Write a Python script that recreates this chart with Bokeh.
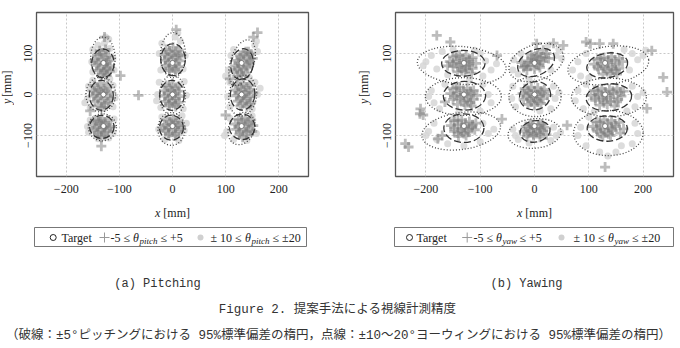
import math
from bokeh.plotting import figure
from bokeh.layouts import column, row
from bokeh.models import Range1d, FixedTicker
from bokeh.embed import file_html
from bokeh.resources import INLINE
from bokeh.core.properties import value

# ---------------- data ----------------
X_TICKS = [-200, -100, 0, 100, 200]
Y_TICKS = [-100, 0, 100]

TARGET_X = [-130, -130, -130, 0, 0, 0, 130, 130, 130]
TARGET_Y = [77, 0, -77, 77, 0, -77, 77, 0, -77]

# -5 <= theta <= +5 samples (pitch)
PITCH_NEAR = [
    (-142, 96), (-131, 102), (-120, 94), (-146, 84), (-134, 86), (-122, 82), (-143, 71), (-130, 74),
    (-118, 70), (-140, 58), (-128, 60), (-118, 57), (-133, 49), (-124, 47), (-137, 107),
    (-137, 98), (-125, 90), (-140, 78), (-124, 76), (-136, 64), (-123, 64), (-129, 53), (-126, 110),
    (-147, 22), (-135, 27), (-123, 21), (-151, 9), (-139, 11), (-127, 8), (-117, 6), (-149, -4),
    (-136, -2), (-123, -5), (-146, -17), (-133, -15), (-121, -19), (-140, -28), (-128, -30),
    (-141, 16), (-129, 14), (-144, 3), (-130, 2), (-117, -10), (-141, -10), (-128, -22), (-134, -32),
    (-146, -62), (-133, -58), (-121, -63), (-150, -74), (-138, -72), (-126, -75), (-116, -78),
    (-147, -87), (-134, -85), (-122, -89), (-140, -98), (-128, -100), (-136, -66),
    (-140, -64), (-127, -68), (-144, -80), (-131, -80), (-119, -82), (-141, -92), (-128, -93),
    (-134, -104),
    (-12, 110), (1, 115), (12, 108), (-15, 97), (-3, 99), (10, 95), (-14, 84), (0, 86), (13, 82),
    (-13, 71), (0, 70), (11, 68), (-6, 58), (6, 56), (16, 96),
    (-6, 106), (6, 104), (-9, 91), (5, 91), (-7, 78), (7, 76), (-6, 64), (5, 62),
    (-12, 22), (0, 26), (12, 20), (-16, 9), (-3, 10), (10, 8), (-15, -4), (-1, -2), (13, -5),
    (-13, -17), (0, -15), (11, -19), (-6, -28), (6, -29),
    (-6, 18), (6, 14), (-9, 3), (4, 2), (-8, -10), (6, -10), (-6, -22), (5, -23),
    (-11, -62), (1, -59), (11, -64), (-15, -75), (-2, -73), (10, -76), (-13, -88), (0, -86),
    (12, -90), (-7, -99), (5, -101),
    (-5, -66), (6, -68), (-8, -81), (5, -81), (-7, -94), (6, -95), (16, -80), (-18, -82),
    (138, 104), (148, 99), (127, 95), (140, 92), (151, 88), (122, 83), (134, 80), (146, 77),
    (118, 70), (130, 68), (142, 65), (116, 57), (127, 54), (138, 52), (122, 44),
    (143, 104), (133, 98), (145, 84), (128, 88), (124, 76), (140, 72), (122, 62), (133, 60),
    (130, 46),
    (122, 24), (134, 27), (146, 22), (118, 11), (130, 12), (143, 9), (152, 4), (120, -3),
    (133, -1), (146, -5), (123, -16), (136, -14), (148, -19), (128, -28), (140, -30),
    (128, 20), (140, 17), (124, 5), (137, 5), (127, -9), (140, -9), (132, -22), (145, -24),
    (124, -60), (137, -57), (148, -62), (118, -72), (130, -70), (143, -73), (152, -76),
    (120, -85), (133, -83), (146, -87), (126, -97), (139, -99),
    (130, -62), (142, -67), (124, -78), (137, -78), (127, -90), (140, -92), (132, -104), (150, -90),
    (-98, 46), (-64, -2), (7, 158), (160, 151), (152, 140), (-134, -126), (-128, 140),
    (-155, -40), (108, 38), (100, -50),
]
# +-10 <= theta <= +-20 samples (pitch)
PITCH_FAR = [
    (-150, 110), (-128, 125), (-118, 112), (-152, 80), (-112, 88), (-150, 55), (-110, 60),
    (-126, 140), (-120, 135), (-140, 120),
    (-158, 20), (-112, 22), (-160, -10), (-108, -8), (-155, -32), (-112, -30), (-150, 35),
    (-118, 38), (-165, -20),
    (-155, -62), (-110, -60), (-158, -92), (-112, -95), (-140, -108), (-120, -106), (-160, -78),
    (-20, 125), (5, 140), (15, 130), (-25, 100), (24, 95), (-22, 60), (20, 62), (10, 150),
    (-25, 30), (22, 32), (-28, 0), (26, -2), (-22, -32), (20, -35), (-30, -15),
    (-20, -55), (18, -52), (-26, -85), (22, -88), (-15, -110), (12, -112), (26, -70),
    (110, 95), (115, 110), (155, 120), (160, 105), (105, 60), (100, 45), (145, 40), (158, 130),
    (108, 30), (155, 30), (104, -5), (160, 0), (108, -30), (150, -35), (165, 15),
    (108, -58), (150, -52), (102, -90), (158, -95), (115, -110), (140, -112), (98, -100),
]

YAW_NEAR = [
    (-150, 92), (-138, 96), (-126, 94), (-114, 90), (-156, 80), (-144, 82), (-132, 78), (-120, 80),
    (-108, 76), (-150, 68), (-138, 66), (-126, 70), (-114, 64), (-142, 55), (-128, 56), (-116, 52),
    (-160, 70),
    (-144, 94), (-132, 88), (-120, 86), (-150, 76), (-138, 74), (-126, 62), (-120, 72), (-134, 58),
    (-150, 14), (-138, 18), (-124, 15), (-112, 10), (-155, 2), (-143, 4), (-130, 0), (-117, 2),
    (-106, -2), (-150, -12), (-137, -10), (-124, -14), (-112, -12), (-142, -24), (-128, -26),
    (-116, -28), (-165, -18),
    (-144, 16), (-131, 10), (-118, 8), (-148, -4), (-136, -4), (-122, -6), (-130, -18), (-118, -20),
    (-148, -64), (-134, -62), (-120, -66), (-108, -70), (-154, -76), (-141, -74), (-128, -78),
    (-115, -80), (-148, -90), (-135, -88), (-122, -92), (-110, -86), (-140, -102), (-126, -100),
    (-178, -108), (-170, -100),
    (-141, -64), (-127, -70), (-114, -74), (-148, -82), (-134, -82), (-121, -84), (-141, -94),
    (-130, -95),
    (-20, 66), (-8, 70), (4, 74), (16, 80), (26, 88), (-24, 78), (-12, 82), (0, 86), (12, 92),
    (22, 100), (-6, 96), (6, 100), (16, 108), (-14, 60), (0, 62), (10, 66),
    (-14, 70), (-2, 78), (10, 84), (20, 90), (-18, 70), (-6, 88), (4, 94), (8, 72),
    (-18, 14), (-6, 18), (6, 16), (18, 12), (-22, 2), (-10, 4), (2, 0), (14, 4), (24, -2),
    (-20, -12), (-8, -10), (4, -14), (16, -10), (-12, -24), (0, -26), (12, -22),
    (-12, 10), (0, 8), (12, 8), (-14, -4), (-2, -6), (10, -4), (-6, -18), (6, -18),
    (-16, -78), (-4, -74), (8, -76), (18, -80), (-20, -90), (-8, -88), (4, -92), (16, -88),
    (-14, -102), (-2, -100), (10, -104), (22, -98),
    (-10, -82), (2, -82), (12, -84), (-12, -95), (-2, -96), (10, -96), (-8, -72), (14, -72),
    (116, 86), (128, 90), (142, 92), (156, 88), (110, 74), (122, 76), (136, 78), (150, 74),
    (162, 80), (118, 62), (130, 64), (144, 60), (156, 64), (126, 50), (140, 52), (152, 50),
    (122, 88), (136, 84), (148, 84), (116, 68), (128, 70), (142, 68), (150, 60), (134, 56),
    (110, 10), (124, 14), (138, 12), (152, 14), (164, 8), (104, -2), (118, 0), (132, -2),
    (146, 2), (160, -4), (112, -14), (126, -12), (140, -16), (154, -12), (120, -26), (134, -24),
    (148, -28),
    (116, 8), (130, 6), (144, 8), (158, 6), (112, -8), (126, -6), (140, -8), (152, -18), (128, -20),
    (114, -66), (128, -62), (142, -64), (156, -68), (108, -78), (122, -76), (136, -80), (150, -78),
    (164, -84), (116, -90), (130, -92), (144, -88), (158, -94), (126, -102), (140, -100),
    (120, -68), (134, -70), (148, -72), (114, -84), (128, -84), (142, -84), (122, -96), (136, -96),
    (-180, 144), (-155, 128), (-211, -47), (-238, -120), (-232, -128), (-69, 95), (35, 125),
    (53, 120), (130, -177), (237, 42), (244, 6), (216, 107), (103, 124), (145, 124), (207, -34),
    (4, 124), (-210, -35), (-60, -60), (60, -75), (-205, -50), (95, 128), (120, 124),
]
YAW_FAR = [
    (-200, 80), (-190, 95), (-180, 62), (-170, 105), (-160, 48), (-100, 100), (-90, 82), (-80, 60),
    (-95, 45), (-110, 108), (-150, 110), (-70, 75), (-205, 70),
    (-190, 10), (-185, -20), (-175, -35), (-165, 25), (-95, 25), (-85, 0), (-80, -20), (-100, -40),
    (-140, -45), (-120, 35), (-195, -5),
    (-195, -90), (-185, -70), (-180, -110), (-160, -120), (-95, -70), (-85, -95), (-100, -115),
    (-130, -125), (-150, -60), (-75, -85), (-200, -100),
    (-40, 60), (-38, 85), (-25, 100), (30, 60), (40, 95), (45, 110), (25, 120), (-30, 50), (50, 88),
    (-40, 20), (-42, -10), (-35, -30), (35, 20), (38, -10), (30, -35), (-10, 35), (10, -40), (45, 5),
    (-40, -85), (-35, -100), (-30, -110), (35, -80), (40, -100), (30, -112), (-10, -118), (10, -68),
    (48, -92),
    (70, 60), (80, 80), (85, 45), (95, 100), (180, 100), (190, 85), (200, 95), (175, 60), (205, 108),
    (165, 110), (100, 40),
    (80, 10), (75, -15), (90, -35), (95, 25), (180, 20), (190, -5), (185, -30), (170, -40),
    (110, -42), (200, 5),
    (85, -80), (80, -100), (95, -125), (120, -140), (150, -140), (180, -120), (190, -95),
    (185, -70), (100, -55), (160, -125), (135, -150),
]

# 95% ellipses: centre x, centre y, width, height (mm), angle (deg)
PITCH_DASH_X = [-131, -134, -133, 1, -1, -2, 131, 132, 131]
PITCH_DASH_Y = [76, -2, -79, 85, -2, -81, 74, 0, -79]
PITCH_DASH_W = [42, 45, 46, 46, 46, 45, 42, 46, 48]
PITCH_DASH_H = [70, 73, 56, 78, 73, 61, 76, 76, 62]
PITCH_DASH_A = [0, 0, 0, 0, 0, 0, -10, -5, -10]

PITCH_DOT_X = [-131, -135, -132, 1, 0, -2, 131, 132, 130]
PITCH_DOT_Y = [89, 0, -80, 96, -2, -84, 78, -3, -83]
PITCH_DOT_W = [46, 56, 53, 47, 49, 51, 44, 52, 48]
PITCH_DOT_H = [102, 85, 66, 110, 98, 80, 115, 100, 82]
PITCH_DOT_A = [0, 0, 0, 0, 0, 0, -18, -8, -25]

YAW_DASH_X = [-131, -129, -130, 3, 1, 1, 134, 137, 134]
YAW_DASH_Y = [76, -3, -82, 78, -3, -90, 71, -7, -83]
YAW_DASH_W = [80, 78, 74, 72, 58, 56, 76, 84, 74]
YAW_DASH_H = [63, 70, 70, 62, 68, 52, 60, 66, 62]
YAW_DASH_A = [0, 0, 0, 25, 20, 10, 10, 5, 0]

YAW_DOT_X = [-134, -131, -135, 3, 1, 0, 136, 137, 136]
YAW_DOT_Y = [71, -5, -89, 78, -5, -95, 71, -7, -94]
YAW_DOT_W = [164, 140, 146, 104, 96, 98, 150, 138, 128]
YAW_DOT_H = [92, 92, 90, 86, 98, 72, 92, 94, 110]
YAW_DOT_A = [-5, 0, 8, 20, 0, 5, 8, 0, 0]

X_RANGE = (-256, 256)
Y_RANGE = (-200, 200)

SERIF = "Liberation Serif"
INK = "#222222"


def blank(w, h, xr, yr):
    f = figure(width=w, height=h, output_backend="svg", toolbar_location=None,
               x_range=Range1d(*xr), y_range=Range1d(*yr), min_border=0)
    f.axis.visible = False
    f.grid.visible = False
    f.outline_line_color = None
    return f


def panel(near, far, dash, dot, width, left, right):
    p = figure(width=width, height=200, output_backend="svg", toolbar_location=None,
               x_range=Range1d(*X_RANGE), y_range=Range1d(*Y_RANGE),
               min_border_left=left, min_border_right=right, min_border_top=12,
               min_border_bottom=24)
    p.outline_line_color = "#555555"
    p.outline_line_width = 1.3
    for ax in (p.xaxis[0], p.yaxis[0]):
        ax.axis_line_color = None
        ax.major_tick_line_color = None
        ax.minor_tick_line_color = None
        ax.major_tick_out = 0
        ax.major_tick_in = 0
        ax.major_label_text_font = SERIF
        ax.major_label_text_font_size = "12px"
        ax.major_label_text_color = INK
    p.xaxis[0].ticker = FixedTicker(ticks=X_TICKS)
    p.yaxis[0].ticker = FixedTicker(ticks=Y_TICKS)
    p.xaxis[0].major_label_standoff = 8
    p.yaxis[0].major_label_standoff = 5
    p.yaxis[0].major_label_orientation = "vertical"
    p.xgrid[0].ticker = FixedTicker(ticks=X_TICKS)
    p.ygrid[0].ticker = FixedTicker(ticks=Y_TICKS)
    for g in (p.xgrid[0], p.ygrid[0]):
        g.grid_line_color = "#c8c8c8"
        g.grid_line_dash = "2 2"
        g.grid_line_width = 1

    fx = [a for a, b in far]
    fy = [b for a, b in far]
    p.scatter(fx, fy, marker="circle", size=7, fill_color="#d6d6d6", fill_alpha=0.85,
              line_color=None)
    nx = [a for a, b in near]
    ny = [b for a, b in near]
    p.scatter(nx, ny, marker="cross", size=10, line_color="#7a7a7a", line_alpha=0.5,
              line_width=2.8)

    ex, ey, ew, eh, ea = dot
    p.ellipse(ex, ey, width=ew, height=eh, angle=ea, angle_units="deg", fill_color=None,
              line_color="#444444", line_width=1.3, line_dash="1 2")
    ex, ey, ew, eh, ea = dash
    p.ellipse(ex, ey, width=ew, height=eh, angle=ea, angle_units="deg", fill_color=None,
              line_color="#333333", line_width=1.3, line_dash="7 3")
    p.scatter(TARGET_X, TARGET_Y, marker="circle", size=5, fill_color="white",
              line_color="#666666", line_width=0.8)
    return p


def ylabel_fig(w, x):
    f = blank(w, 200, (0, w), (200, 0))
    # "y [mm]" rotated, centred on the frame (page y = 94)
    f.text([x], [94 + 17.5], text=["y"], angle=math.pi / 2, text_font=value(SERIF),
           text_font_size=value("12px"), text_font_style="italic", text_baseline="middle",
           text_align="left", text_color=INK)
    f.text([x], [94 + 17.5 - 8.3], text=["[mm]"], angle=math.pi / 2, text_font=value(SERIF),
           text_font_size=value("12px"), text_baseline="middle", text_align="left",
           text_color=INK)
    return f


pa = panel(PITCH_NEAR, PITCH_FAR,
           (PITCH_DASH_X, PITCH_DASH_Y, PITCH_DASH_W, PITCH_DASH_H, PITCH_DASH_A),
           (PITCH_DOT_X, PITCH_DOT_Y, PITCH_DOT_W, PITCH_DOT_H, PITCH_DOT_A), 326, 22, 32)
pb = panel(YAW_NEAR, YAW_FAR,
           (YAW_DASH_X, YAW_DASH_Y, YAW_DASH_W, YAW_DASH_H, YAW_DASH_A),
           (YAW_DOT_X, YAW_DOT_Y, YAW_DOT_W, YAW_DOT_H, YAW_DOT_A), 305, 20, 7)
ya = ylabel_fig(14, 6)
yb = ylabel_fig(35, 23)

# ---------------- axis titles, legends & captions ----------------
cap = blank(680, 148, (0, 680), (148, 0))


def txt(x, y, s, size="12px", style="normal", font=SERIF, align="left", color=INK):
    cap.text([x], [y], text=[s], text_font=value(font), text_font_size=value(size),
             text_font_style=style, text_baseline="middle", text_align=align,
             text_color=color)


# x titles
for cx in (172, 534):
    txt(cx - 17.5, 12, "x", style="italic")
    txt(cx - 17.5 + 8.3, 12, "[mm]")

cap.quad(left=[34, 394], right=[306, 673], top=[27, 27], bottom=[46, 46], fill_color=None,
         line_color="#777777", line_width=1)
LY = 37
cap.scatter([52.7, 409], [LY, LY], marker="circle", size=6, fill_color="white",
            line_color=INK, line_width=1)
cap.scatter([104, 466.7], [LY, LY], marker="cross", size=10, line_color="#999999",
            line_width=1)
cap.scatter([200, 561], [LY, LY], marker="circle", size=6, fill_color="#d0d0d0",
            line_color=None)

# legend (a)
txt(61, LY, "Target")
txt(110, LY, "-5 ≤")
txt(132.5, LY, "θ", style="italic")
txt(139, LY + 3, "pitch", size="9px", style="italic")
txt(160, LY, "≤ +5")
txt(210, LY, "± 10 ≤")
txt(244.5, LY, "θ", style="italic")
txt(251, LY + 3, "pitch", size="9px", style="italic")
txt(272, LY, "≤ ±20")
# legend (b)
txt(416, LY, "Target")
txt(473, LY, "-5 ≤")
txt(495.5, LY, "θ", style="italic")
txt(502, LY + 3, "yaw", size="9px", style="italic")
txt(519, LY, "≤ +5")
txt(573, LY, "± 10 ≤")
txt(607.5, LY, "θ", style="italic")
txt(614, LY + 3, "yaw", size="9px", style="italic")
txt(631.5, LY, "≤ ±20")

MONO_JP = "Liberation Mono, Noto Sans CJK JP"
txt(157, 83, "(a) Pitching", size="12px", font=MONO_JP, align="center", color="#333333")
txt(526, 83, "(b) Yawing", size="12px", font=MONO_JP, align="center", color="#333333")
txt(337, 109, "Figure 2. 提案手法による視線計測精度", size="12.5px", font=MONO_JP,
    align="center", color="#333333")
txt(338, 135, "（破線：±5°ピッチングにおける 95%標準偏差の楕円，点線：±10～20°ヨーウィングにおける 95%標準偏差の楕円）",
    size="12.5px", font=MONO_JP, align="center", color="#333333")

layout = column(row(ya, pa, yb, pb), cap)
open("out.html", "w").write(file_html(layout, INLINE))
